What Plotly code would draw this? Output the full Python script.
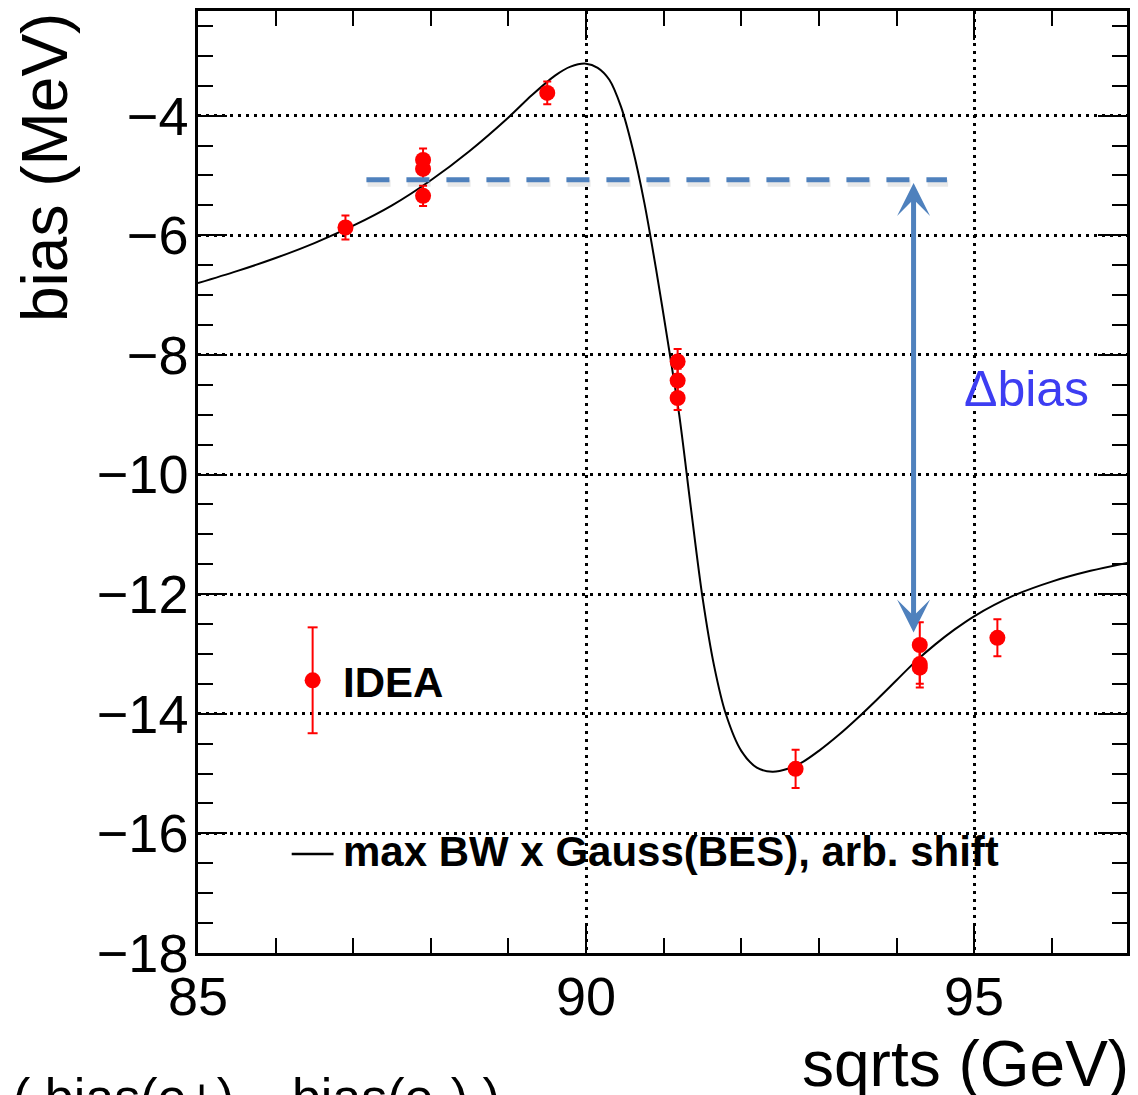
import plotly.graph_objects as go

# ---------------- data ----------------
sqrts_gev = [86.9, 87.9, 87.9, 87.9, 89.5, 91.18, 91.18, 91.18, 92.7, 94.3, 94.3, 94.3, 95.3]
bias_mev = [-5.87, -4.74, -4.89, -5.34, -3.62, -8.11, -8.43, -8.72, -14.92, -12.85, -13.17, -13.23, -12.73]
bias_err = [0.20, 0.19, 0.19, 0.17, 0.19, 0.21, 0.20, 0.20, 0.32, 0.38, 0.33, 0.33, 0.31]

curve_sqrts = [85.0, 85.5, 86.0, 86.5, 87.0, 87.5, 88.0, 88.5, 89.0, 89.3, 89.6, 89.8,
               90.0, 90.15, 90.3, 90.45, 90.6, 90.75, 90.9, 91.05, 91.2, 91.35, 91.5,
               91.65, 91.8, 92.0, 92.2, 92.4, 92.6, 92.8, 93.0, 93.25, 93.5, 93.75, 94.0,
               94.25, 94.5, 94.75, 95.0, 95.5, 96.0, 96.5, 97.0]
curve_bias = [-6.80, -6.60, -6.38, -6.13, -5.84, -5.50, -5.08, -4.59, -4.03, -3.66, -3.33, -3.18,
              -3.13, -3.20, -3.40, -3.85, -4.55, -5.45, -6.55, -7.75, -9.00, -10.55, -12.05,
              -13.20, -14.00, -14.62, -14.90, -14.97, -14.92, -14.80, -14.62, -14.36, -14.07, -13.76, -13.44,
              -13.12, -12.84, -12.59, -12.37, -12.03, -11.79, -11.61, -11.47]

ref_bias = -5.07          # dashed reference level
ref_sqrts = [87.17, 94.65]
arrow_sqrts = 94.22
arrow_bias = [-5.10, -12.64]

x_range = [85, 96.97]
y_range = [-18, -2.25]

# ---------------- layout geometry ----------------
W, H = 1138, 1095
L, R, T, B = 198, 8, 10, 142
PW, PH = W - L - R, H - T - B


def pxx(xp):
    return (xp - L) / PW


def pxy(yp):
    return (H - B - yp) / PH


FONT = "Liberation Sans, Arial, Helvetica, sans-serif"
BLUE = "#4f81bd"

fig = go.Figure()

fig.add_trace(go.Scatter(
    x=curve_sqrts, y=curve_bias, mode="lines",
    line=dict(color="black", width=2, shape="spline", smoothing=0.9),
    showlegend=False, hoverinfo="skip"))

fig.add_trace(go.Scatter(
    x=sqrts_gev, y=bias_mev, mode="markers",
    marker=dict(color="#ff0000", size=16, symbol="circle"),
    error_y=dict(type="data", array=bias_err, visible=True, color="#ff0000", thickness=2, width=4),
    showlegend=False))

axis_common = dict(
    showline=True, linecolor="black", linewidth=2.5, mirror="ticks",
    ticks="inside", tickcolor="black", tickwidth=2, ticklen=29,
    showgrid=True, gridcolor="black", gridwidth=2.5, griddash="3px,5px",
    zeroline=False,
    tickfont=dict(family=FONT, size=54, color="black"),
)

fig.update_xaxes(range=x_range, tick0=85, dtick=5,
                 minor=dict(ticks="inside", ticklen=15, tickwidth=2, tickcolor="black",
                            tickmode="linear", tick0=85, dtick=1, showgrid=False),
                 ticklabelstandoff=-6,
                 **axis_common)
fig.update_yaxes(range=y_range, tick0=-18, dtick=2,
                 minor=dict(ticks="inside", ticklen=15, tickwidth=2, tickcolor="black",
                            tickmode="linear", tick0=-18, dtick=0.5, showgrid=False),
                 ticklabelstandoff=-4,
                 **axis_common)

shapes = []
# legend box (white, hides grid lines)
shapes.append(dict(type="rect", xref="paper", yref="paper",
                   x0=pxx(283), x1=pxx(530), y0=pxy(900), y1=pxy(585),
                   fillcolor="white", line=dict(width=0), layer="between"))
# dashed reference line with soft shadow
shapes.append(dict(type="line", xref="x", yref="y",
                   x0=ref_sqrts[0] + 0.015, x1=ref_sqrts[1] + 0.015, y0=ref_bias - 0.06, y1=ref_bias - 0.06,
                   line=dict(color="rgba(0,0,0,0.09)", width=7, dash="23px,17px")))
shapes.append(dict(type="line", xref="x", yref="y",
                   x0=ref_sqrts[0], x1=ref_sqrts[1], y0=ref_bias, y1=ref_bias,
                   line=dict(color=BLUE, width=5, dash="23px,17px")))
# legend: IDEA marker with error bar
lx = pxx(313)
shapes.append(dict(type="line", xref="paper", yref="paper", x0=lx, x1=lx,
                   y0=pxy(733), y1=pxy(627), line=dict(color="#ff0000", width=2)))
for yy in (627, 733):
    shapes.append(dict(type="line", xref="paper", yref="paper", x0=pxx(308), x1=pxx(318),
                       y0=pxy(yy), y1=pxy(yy), line=dict(color="#ff0000", width=2)))
shapes.append(dict(type="circle", xref="paper", yref="paper", xsizemode="pixel", ysizemode="pixel",
                   xanchor=lx, yanchor=pxy(680), x0=-8, x1=8, y0=-8, y1=8,
                   fillcolor="#ff0000", line=dict(width=0)))
# legend: line sample
shapes.append(dict(type="line", xref="paper", yref="paper", x0=pxx(292), x1=pxx(334),
                   y0=pxy(854), y1=pxy(854), line=dict(color="black", width=2.5)))

annotations = []
annotations.append(dict(xref="paper", yref="paper", x=pxx(341), y=pxy(682), xanchor="left", yanchor="middle",
                        text="<b>IDEA</b>", showarrow=False,
                        font=dict(family=FONT, size=42, color="black")))
annotations.append(dict(xref="paper", yref="paper", x=pxx(341), y=pxy(851), xanchor="left", yanchor="middle",
                        text="<b>max BW x Gauss(BES), arb. shift</b>", showarrow=False,
                        font=dict(family=FONT, size=42, color="black")))
# double arrow
annotations.append(dict(xref="x", yref="y", axref="x", ayref="y",
                        x=arrow_sqrts, y=arrow_bias[1], ax=arrow_sqrts, ay=arrow_bias[0],
                        text="", showarrow=True, arrowside="end+start",
                        arrowhead=3, startarrowhead=3, arrowsize=1.1, startarrowsize=1.1,
                        arrowwidth=5, arrowcolor=BLUE, standoff=0, startstandoff=0))
annotations.append(dict(xref="paper", yref="paper", x=pxx(964), y=pxy(388), xanchor="left", yanchor="middle",
                        text="\u0394bias", showarrow=False,
                        font=dict(family=FONT, size=50, color="#3d3df2")))
# axis titles
annotations.append(dict(xref="paper", yref="paper", x=pxx(1134), y=pxy(1026), xanchor="right", yanchor="top",
                        text="sqrts (GeV)", showarrow=False,
                        font=dict(family=FONT, size=64, color="black")))
annotations.append(dict(xref="paper", yref="paper", x=pxx(44), y=1.0, xanchor="center", yanchor="top",
                        text="bias (MeV)", textangle=-90, showarrow=False,
                        font=dict(family=FONT, size=64, color="black")))
# clipped caption at the bottom of the page
annotations.append(dict(xref="paper", yref="paper", x=pxx(10), y=pxy(1066), xanchor="left", yanchor="top",
                        text="( bias(e+) \u2013 bias(e-) )", showarrow=False,
                        font=dict(family=FONT, size=52, color="black")))

fig.update_layout(
    width=W, height=H,
    margin=dict(l=L, r=R, t=T, b=B, pad=0),
    paper_bgcolor="white", plot_bgcolor="white",
    shapes=shapes, annotations=annotations,
    showlegend=False,
    font=dict(family=FONT, color="black"),
)

fig.write_html("out.html")
